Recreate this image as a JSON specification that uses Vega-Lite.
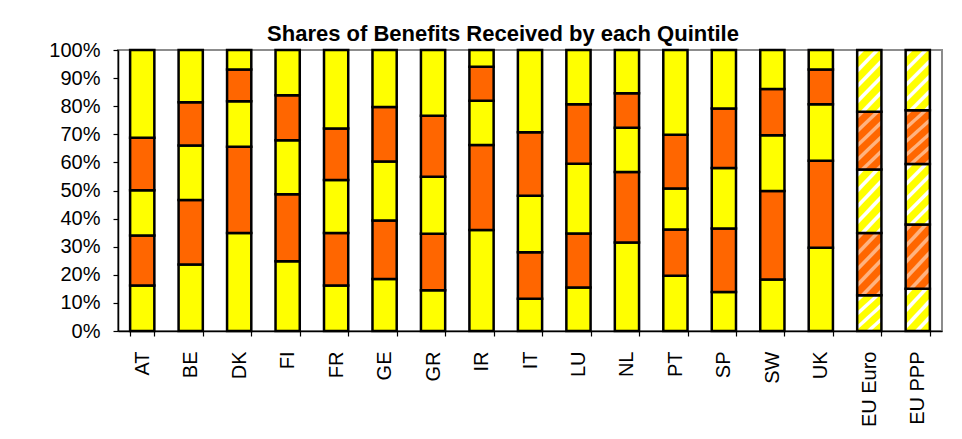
{
  "$schema": "https://vega.github.io/schema/vega-lite/v6.json",
  "autosize": "none",
  "width": 824,
  "height": 281,
  "padding": {"left": 118, "top": 50, "right": 20, "bottom": 108},
  "background": "white",
  "title": {
    "text": "Shares of Benefits Received by each Quintile",
    "font": "Liberation Sans",
    "fontSize": 22,
    "fontWeight": "bold",
    "color": "black",
    "anchor": "middle",
    "dx": -27,
    "offset": -6
  },
  "config": {
    "view": {"stroke": "#8c8c8c", "strokeWidth": 2},
    "axis": {
      "labelFont": "Liberation Sans",
      "labelFontSize": 20,
      "labelColor": "black",
      "domainColor": "black",
      "domainWidth": 1.5,
      "tickColor": "black",
      "tickWidth": 1.2,
      "tickSize": 5,
      "grid": false,
      "title": null
    }
  },
  "data": {
    "values": [
      {"country": "AT", "quintile": "Q1", "share": 16.2}, {"country": "AT", "quintile": "Q2", "share": 17.8}, {"country": "AT", "quintile": "Q3", "share": 16.1}, {"country": "AT", "quintile": "Q4", "share": 18.7}, {"country": "AT", "quintile": "Q5", "share": 31.2},
      {"country": "BE", "quintile": "Q1", "share": 23.7}, {"country": "BE", "quintile": "Q2", "share": 22.9}, {"country": "BE", "quintile": "Q3", "share": 19.4}, {"country": "BE", "quintile": "Q4", "share": 15.4}, {"country": "BE", "quintile": "Q5", "share": 18.6},
      {"country": "DK", "quintile": "Q1", "share": 34.9}, {"country": "DK", "quintile": "Q2", "share": 30.7}, {"country": "DK", "quintile": "Q3", "share": 16.2}, {"country": "DK", "quintile": "Q4", "share": 11.3}, {"country": "DK", "quintile": "Q5", "share": 6.9},
      {"country": "FI", "quintile": "Q1", "share": 24.8}, {"country": "FI", "quintile": "Q2", "share": 23.9}, {"country": "FI", "quintile": "Q3", "share": 19.2}, {"country": "FI", "quintile": "Q4", "share": 16.0}, {"country": "FI", "quintile": "Q5", "share": 16.1},
      {"country": "FR", "quintile": "Q1", "share": 16.2}, {"country": "FR", "quintile": "Q2", "share": 18.7}, {"country": "FR", "quintile": "Q3", "share": 18.8}, {"country": "FR", "quintile": "Q4", "share": 18.4}, {"country": "FR", "quintile": "Q5", "share": 27.9},
      {"country": "GE", "quintile": "Q1", "share": 18.5}, {"country": "GE", "quintile": "Q2", "share": 20.8}, {"country": "GE", "quintile": "Q3", "share": 21.0}, {"country": "GE", "quintile": "Q4", "share": 19.4}, {"country": "GE", "quintile": "Q5", "share": 20.3},
      {"country": "GR", "quintile": "Q1", "share": 14.5}, {"country": "GR", "quintile": "Q2", "share": 20.1}, {"country": "GR", "quintile": "Q3", "share": 20.3}, {"country": "GR", "quintile": "Q4", "share": 21.7}, {"country": "GR", "quintile": "Q5", "share": 23.4},
      {"country": "IR", "quintile": "Q1", "share": 35.9}, {"country": "IR", "quintile": "Q2", "share": 30.3}, {"country": "IR", "quintile": "Q3", "share": 15.7}, {"country": "IR", "quintile": "Q4", "share": 12.1}, {"country": "IR", "quintile": "Q5", "share": 6.0},
      {"country": "IT", "quintile": "Q1", "share": 11.5}, {"country": "IT", "quintile": "Q2", "share": 16.5}, {"country": "IT", "quintile": "Q3", "share": 20.1}, {"country": "IT", "quintile": "Q4", "share": 22.6}, {"country": "IT", "quintile": "Q5", "share": 29.3},
      {"country": "LU", "quintile": "Q1", "share": 15.5}, {"country": "LU", "quintile": "Q2", "share": 19.2}, {"country": "LU", "quintile": "Q3", "share": 24.8}, {"country": "LU", "quintile": "Q4", "share": 21.2}, {"country": "LU", "quintile": "Q5", "share": 19.3},
      {"country": "NL", "quintile": "Q1", "share": 31.5}, {"country": "NL", "quintile": "Q2", "share": 25.1}, {"country": "NL", "quintile": "Q3", "share": 15.7}, {"country": "NL", "quintile": "Q4", "share": 12.3}, {"country": "NL", "quintile": "Q5", "share": 15.4},
      {"country": "PT", "quintile": "Q1", "share": 19.7}, {"country": "PT", "quintile": "Q2", "share": 16.4}, {"country": "PT", "quintile": "Q3", "share": 14.6}, {"country": "PT", "quintile": "Q4", "share": 19.1}, {"country": "PT", "quintile": "Q5", "share": 30.2},
      {"country": "SP", "quintile": "Q1", "share": 13.9}, {"country": "SP", "quintile": "Q2", "share": 22.6}, {"country": "SP", "quintile": "Q3", "share": 21.5}, {"country": "SP", "quintile": "Q4", "share": 21.2}, {"country": "SP", "quintile": "Q5", "share": 20.8},
      {"country": "SW", "quintile": "Q1", "share": 18.3}, {"country": "SW", "quintile": "Q2", "share": 31.5}, {"country": "SW", "quintile": "Q3", "share": 19.9}, {"country": "SW", "quintile": "Q4", "share": 16.4}, {"country": "SW", "quintile": "Q5", "share": 13.9},
      {"country": "UK", "quintile": "Q1", "share": 29.6}, {"country": "UK", "quintile": "Q2", "share": 31.0}, {"country": "UK", "quintile": "Q3", "share": 20.1}, {"country": "UK", "quintile": "Q4", "share": 12.4}, {"country": "UK", "quintile": "Q5", "share": 6.9},
      {"country": "EU Euro", "quintile": "Q1", "share": 12.7}, {"country": "EU Euro", "quintile": "Q2", "share": 22.2}, {"country": "EU Euro", "quintile": "Q3", "share": 22.6}, {"country": "EU Euro", "quintile": "Q4", "share": 20.5}, {"country": "EU Euro", "quintile": "Q5", "share": 22.0},
      {"country": "EU PPP", "quintile": "Q1", "share": 15.0}, {"country": "EU PPP", "quintile": "Q2", "share": 22.9}, {"country": "EU PPP", "quintile": "Q3", "share": 21.5}, {"country": "EU PPP", "quintile": "Q4", "share": 19.2}, {"country": "EU PPP", "quintile": "Q5", "share": 21.4}
    ]
  },
  "mark": {"type": "bar", "stroke": "black", "strokeWidth": 2.5, "strokeJoin": "miter"},
  "encoding": {
    "x": {
      "field": "country",
      "type": "nominal",
      "sort": null,
      "scale": {"paddingInner": 0.5, "paddingOuter": 0.25},
      "axis": {"labelAngle": -90, "labelPadding": 15, "tickBand": "extent"}
    },
    "y": {
      "field": "share",
      "type": "quantitative",
      "stack": "normalize",
      "scale": {"domain": [0, 1], "nice": false},
      "axis": {"format": ".0%", "values": [0, 0.1, 0.2, 0.3, 0.4, 0.5, 0.6, 0.7, 0.8, 0.9, 1.0], "labelPadding": 13}
    },
    "color": {
      "condition": [
        {
          "test": "indexof(['EU Euro','EU PPP'], datum.country) >= 0 && datum.quintile == 'Q1'",
          "value": {
            "gradient": "linear", "x1": 0, "y1": 0, "x2": 0.726, "y2": 1.170,
            "stops": [
              {"offset": 0, "color": "#FFFF00"},
              {"offset": 0.0316, "color": "#FFFF00"}, {"offset": 0.0554, "color": "#FFFFFF"}, {"offset": 0.1108, "color": "#FFFFFF"}, {"offset": 0.1345, "color": "#FFFF00"},
              {"offset": 0.2690, "color": "#FFFF00"}, {"offset": 0.2927, "color": "#FFFFFF"}, {"offset": 0.3481, "color": "#FFFFFF"}, {"offset": 0.3718, "color": "#FFFF00"},
              {"offset": 0.5063, "color": "#FFFF00"}, {"offset": 0.5301, "color": "#FFFFFF"}, {"offset": 0.5854, "color": "#FFFFFF"}, {"offset": 0.6092, "color": "#FFFF00"},
              {"offset": 0.7437, "color": "#FFFF00"}, {"offset": 0.7674, "color": "#FFFFFF"}, {"offset": 0.8228, "color": "#FFFFFF"}, {"offset": 0.8465, "color": "#FFFF00"},
              {"offset": 1, "color": "#FFFF00"}
            ]
          }
        },
        {
          "test": "indexof(['EU Euro','EU PPP'], datum.country) >= 0 && (datum.quintile == 'Q3' || datum.quintile == 'Q5')",
          "value": {
            "gradient": "linear", "x1": 0, "y1": 0, "x2": 0.487, "y2": 1.207,
            "stops": [
              {"offset": 0, "color": "#FFFF00"},
              {"offset": 0.0238, "color": "#FFFF00"}, {"offset": 0.0416, "color": "#FFFFFF"}, {"offset": 0.0831, "color": "#FFFFFF"}, {"offset": 0.1010, "color": "#FFFF00"},
              {"offset": 0.2019, "color": "#FFFF00"}, {"offset": 0.2197, "color": "#FFFFFF"}, {"offset": 0.2613, "color": "#FFFFFF"}, {"offset": 0.2791, "color": "#FFFF00"},
              {"offset": 0.3800, "color": "#FFFF00"}, {"offset": 0.3979, "color": "#FFFFFF"}, {"offset": 0.4394, "color": "#FFFFFF"}, {"offset": 0.4572, "color": "#FFFF00"},
              {"offset": 0.5582, "color": "#FFFF00"}, {"offset": 0.5760, "color": "#FFFFFF"}, {"offset": 0.6176, "color": "#FFFFFF"}, {"offset": 0.6354, "color": "#FFFF00"},
              {"offset": 0.7363, "color": "#FFFF00"}, {"offset": 0.7542, "color": "#FFFFFF"}, {"offset": 0.7957, "color": "#FFFFFF"}, {"offset": 0.8135, "color": "#FFFF00"},
              {"offset": 0.9145, "color": "#FFFF00"}, {"offset": 0.9323, "color": "#FFFFFF"}, {"offset": 0.9739, "color": "#FFFFFF"}, {"offset": 0.9917, "color": "#FFFF00"},
              {"offset": 1, "color": "#FFFF00"}
            ]
          }
        },
        {
          "test": "indexof(['EU Euro','EU PPP'], datum.country) >= 0 && (datum.quintile == 'Q2' || datum.quintile == 'Q4')",
          "value": {
            "gradient": "linear", "x1": 0, "y1": 0, "x2": 0.487, "y2": 1.207,
            "stops": [
              {"offset": 0, "color": "#FF6600"},
              {"offset": 0.0238, "color": "#FF6600"}, {"offset": 0.0416, "color": "#FFB380"}, {"offset": 0.0831, "color": "#FFB380"}, {"offset": 0.1010, "color": "#FF6600"},
              {"offset": 0.2019, "color": "#FF6600"}, {"offset": 0.2197, "color": "#FFB380"}, {"offset": 0.2613, "color": "#FFB380"}, {"offset": 0.2791, "color": "#FF6600"},
              {"offset": 0.3800, "color": "#FF6600"}, {"offset": 0.3979, "color": "#FFB380"}, {"offset": 0.4394, "color": "#FFB380"}, {"offset": 0.4572, "color": "#FF6600"},
              {"offset": 0.5582, "color": "#FF6600"}, {"offset": 0.5760, "color": "#FFB380"}, {"offset": 0.6176, "color": "#FFB380"}, {"offset": 0.6354, "color": "#FF6600"},
              {"offset": 0.7363, "color": "#FF6600"}, {"offset": 0.7542, "color": "#FFB380"}, {"offset": 0.7957, "color": "#FFB380"}, {"offset": 0.8135, "color": "#FF6600"},
              {"offset": 0.9145, "color": "#FF6600"}, {"offset": 0.9323, "color": "#FFB380"}, {"offset": 0.9739, "color": "#FFB380"}, {"offset": 0.9917, "color": "#FF6600"},
              {"offset": 1, "color": "#FF6600"}
            ]
          }
        }
      ],
      "field": "quintile",
      "type": "nominal",
      "scale": {"domain": ["Q1", "Q2", "Q3", "Q4", "Q5"], "range": ["#FFFF00", "#FF6600", "#FFFF00", "#FF6600", "#FFFF00"]},
      "legend": null
    },
    "order": {"field": "quintile", "type": "ordinal", "sort": "ascending"}
  }
}
